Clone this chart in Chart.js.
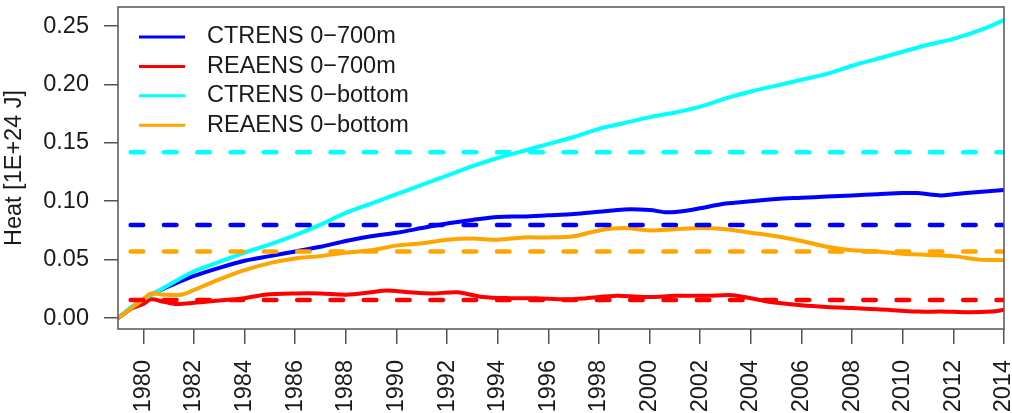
<!DOCTYPE html>
<html>
<head>
<meta charset="utf-8">
<title>Heat content</title>
<script src="https://cdn.jsdelivr.net/npm/chart.js@4.4.1/dist/chart.umd.min.js"></script>
<style>
  html, body { margin: 0; padding: 0; background: #fff; }
  #wrap { width: 1012px; height: 413px; position: relative; }
</style>
</head>
<body>
<div id="wrap"><canvas id="heatChart"></canvas></div>
<script>
// Data (heat in 1E+24 J)
const ctrens700Years = [1979, 1979.5, 1980, 1980.5, 1981, 1982, 1983, 1984, 1985, 1986, 1987, 1988, 1989, 1990, 1991, 1992, 1993, 1994, 1995, 1996, 1997, 1998, 1999, 2000, 2000.7, 2001.5, 2002, 2003, 2004, 2005, 2006, 2007, 2008, 2009, 2010, 2010.6, 2011.5, 2012, 2013, 2014];
const ctrens700Heat = [0, 0.008, 0.016, 0.022, 0.027, 0.036, 0.043, 0.049, 0.053, 0.057, 0.061, 0.066, 0.070, 0.073, 0.077, 0.081, 0.084, 0.0865, 0.087, 0.088, 0.089, 0.091, 0.093, 0.0925, 0.0905, 0.092, 0.094, 0.098, 0.100, 0.102, 0.103, 0.104, 0.105, 0.106, 0.107, 0.107, 0.105, 0.106, 0.108, 0.1096];

const reaens700Years = [1979, 1979.5, 1980, 1980.3, 1980.8, 1981.3, 1982, 1983, 1984, 1984.8, 1986, 1987, 1988, 1989, 1989.6, 1990.5, 1991.4, 1992.4, 1993.4, 1994.5, 1995.5, 1996.7, 1997.5, 1998.7, 2000, 2001, 2002.3, 2003.3, 2004.7, 2006, 2007, 2008, 2009, 2010.6, 2011.5, 2012.6, 2013.5, 2014];
const reaens700Heat = [0, 0.008, 0.012, 0.016, 0.014, 0.012, 0.013, 0.015, 0.017, 0.020, 0.021, 0.021, 0.020, 0.022, 0.0235, 0.022, 0.021, 0.022, 0.018, 0.017, 0.017, 0.016, 0.017, 0.019, 0.018, 0.019, 0.019, 0.0195, 0.014, 0.011, 0.0095, 0.0085, 0.0075, 0.0055, 0.0055, 0.005, 0.0055, 0.007];

const ctrensBotYears = [1979, 1979.5, 1980, 1980.9, 1982, 1983, 1984, 1985, 1986, 1987, 1988, 1989, 1990, 1991, 1992, 1993, 1994, 1995, 1996, 1997, 1998, 1999, 2000, 2001, 2002, 2003, 2004, 2005, 2006, 2007, 2008, 2009, 2010, 2011, 2012, 2013, 2014];
const ctrensBotHeat = [0, 0.009, 0.016, 0.027, 0.040, 0.048, 0.056, 0.063, 0.071, 0.080, 0.090, 0.098, 0.106, 0.114, 0.122, 0.130, 0.137, 0.143, 0.149, 0.155, 0.162, 0.167, 0.172, 0.176, 0.181, 0.188, 0.194, 0.199, 0.204, 0.209, 0.216, 0.222, 0.228, 0.234, 0.239, 0.246, 0.255];

const reaensBotYears = [1979, 1979.5, 1980, 1980.3, 1980.8, 1981.5, 1982, 1983, 1984, 1985, 1986, 1987, 1988, 1989, 1990, 1991, 1992, 1993, 1994, 1995, 1996, 1997, 1998, 1999, 2000, 2001, 2002, 2003, 2004, 2005, 2006, 2007, 2008, 2009, 2010, 2011, 2012, 2013, 2014];
const reaensBotHeat = [0, 0.008, 0.016, 0.021, 0.020, 0.020, 0.024, 0.033, 0.041, 0.047, 0.051, 0.053, 0.056, 0.058, 0.062, 0.064, 0.067, 0.068, 0.067, 0.069, 0.069, 0.070, 0.075, 0.077, 0.075, 0.076, 0.077, 0.076, 0.073, 0.070, 0.066, 0.061, 0.058, 0.057, 0.055, 0.054, 0.053, 0.050, 0.0495];

// horizontal reference levels (dashed)
const refYears = [1979.5, 2014];
const refLevels = { ctrens700: 0.0796, reaens700: 0.0154, ctrensBot: 0.142, reaensBot: 0.057 };

const xTicks = [1980, 1982, 1984, 1986, 1988, 1990, 1992, 1994, 1996, 1998, 2000, 2002, 2004, 2006, 2008, 2010, 2012, 2014];
const yTicks = [0, 0.05, 0.10, 0.15, 0.20, 0.25];

const seriesLabels = ['CTRENS 0\u2212700m', 'REAENS 0\u2212700m', 'CTRENS 0\u2212bottom', 'REAENS 0\u2212bottom'];
const seriesColors = ['#0000ff', '#ff0000', '#00ffff', '#ffa500'];

const FONT = 'Liberation Sans, Arial, Helvetica, sans-serif';
const INK = '#1a1a1a';
const AXIS = '#555555';

function points(xs, ys) {
  return xs.map((x, i) => ({ x: x, y: ys[i] }));
}

function solid(i, xs, ys, order) {
  return {
    label: seriesLabels[i],
    data: points(xs, ys),
    borderColor: seriesColors[i],
    borderWidth: 4,
    pointRadius: 0,
    tension: 0.3,
    fill: false,
    order: order
  };
}

function dashed(i, level) {
  return {
    label: seriesLabels[i] + ' mean',
    data: refYears.map(x => ({ x: x, y: level })),
    borderColor: seriesColors[i],
    borderWidth: 4.5,
    borderDash: [12.5, 20.8],
    borderCapStyle: 'round',
    pointRadius: 0,
    fill: false,
    order: 0,
    isRef: true
  };
}

// kill the extra room Chart.js keeps for the edge tick labels
function noEdgePadding(s) {
  s.paddingLeft = 0;
  s.paddingRight = 0;
  s.paddingTop = 0;
  s.paddingBottom = 0;
}

// box around plot + legend inside top-left
const boxAndLegend = {
  id: 'boxAndLegend',
  afterDatasetsDraw(chart) {
    const { ctx, chartArea: a } = chart;
    ctx.save();
    ctx.strokeStyle = AXIS;
    ctx.lineWidth = 1.5;
    ctx.strokeRect(a.left, a.top, a.right - a.left, a.bottom - a.top);

    ctx.font = '23.5px ' + FONT;
    ctx.textBaseline = 'middle';
    ctx.fillStyle = INK;
    const solids = chart.data.datasets.filter(d => !d.isRef);
    solids.forEach((d, i) => {
      const y = a.top + 30 + i * 29.4;
      ctx.strokeStyle = d.borderColor;
      ctx.lineWidth = 3;
      ctx.beginPath();
      ctx.moveTo(a.left + 21, y);
      ctx.lineTo(a.left + 67, y);
      ctx.stroke();
      ctx.fillText(d.label, a.left + 89, y);
    });
    ctx.restore();
  }
};

const ctx = document.getElementById('heatChart').getContext('2d');
new Chart(ctx, {
  type: 'line',
  data: {
    datasets: [
      solid(0, ctrens700Years, ctrens700Heat, 4),
      solid(1, reaens700Years, reaens700Heat, 3),
      solid(2, ctrensBotYears, ctrensBotHeat, 2),
      solid(3, reaensBotYears, reaensBotHeat, 1),
      dashed(2, refLevels.ctrensBot),
      dashed(0, refLevels.ctrens700),
      dashed(3, refLevels.reaensBot),
      dashed(1, refLevels.reaens700)
    ]
  },
  options: {
    responsive: true,
    maintainAspectRatio: false,
    animation: false,
    layout: { padding: { top: 7, right: 8, left: 0, bottom: 0 } },
    plugins: {
      legend: { display: false },
      tooltip: { enabled: false }
    },
    scales: {
      x: {
        type: 'linear',
        min: 1979,
        max: 2014,
        afterBuildTicks: s => { s.ticks = xTicks.map(v => ({ value: v })); },
        afterFit: s => { s.height = 84; noEdgePadding(s); },
        grid: { drawOnChartArea: false, drawTicks: true, tickLength: 15, color: AXIS, lineWidth: 1.5 },
        border: { display: false },
        ticks: {
          autoSkip: false,
          minRotation: 90,
          maxRotation: 90,
          padding: 16,
          color: INK,
          font: { family: FONT, size: 23.5 },
          callback: v => String(v)
        }
      },
      y: {
        type: 'linear',
        min: -0.0094,
        max: 0.2663,
        afterBuildTicks: s => { s.ticks = yTicks.map(v => ({ value: v })); },
        afterFit: s => { s.width = 118; noEdgePadding(s); },
        grid: { drawOnChartArea: false, drawTicks: true, tickLength: 14, color: AXIS, lineWidth: 1.5 },
        border: { display: false },
        title: {
          display: true,
          text: 'Heat [1E+24 J]',
          color: INK,
          padding: 0,
          font: { family: FONT, size: 23.5 }
        },
        ticks: {
          padding: 15,
          color: INK,
          font: { family: FONT, size: 23.5 },
          callback: v => v.toFixed(2)
        }
      }
    }
  },
  plugins: [boxAndLegend]
});
</script>
</body>
</html>
